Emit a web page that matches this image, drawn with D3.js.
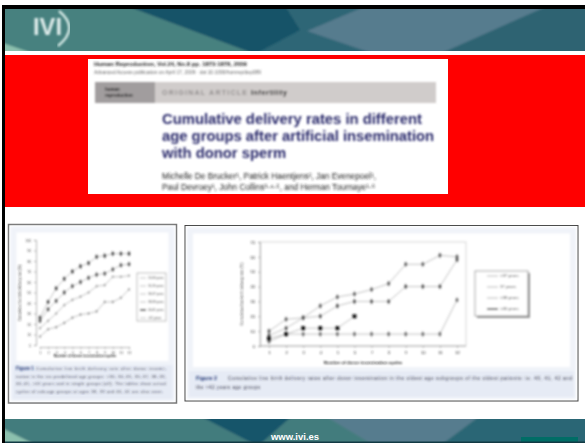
<!DOCTYPE html>
<html>
<head>
<meta charset="utf-8">
<script src="https://cdn.jsdelivr.net/npm/d3@7"></script>
<style>
  html, body { margin: 0; padding: 0; background: #fff; }
  svg { display: block; }
  text { font-family: "Liberation Sans", sans-serif; }
</style>
</head>
<body>
<div id="chart"></div>
<script>
const attempts = [1, 2, 3, 4, 5, 6, 7, 8, 9, 10, 11, 12];

// figure 1, cumulative delivery rate by age group
const fig1Ticks = [0, 10, 20, 30, 40, 50, 60, 70, 80, 90, 100];
const fig1Labels = ['20-30 years', '31-35 years', '36-37 years', '38-39 years', '40-41 years', '>41 years'];
const fig1A = [26, 41, 54, 63, 70, 75, 78, 84, 85, 87, 87, 87];
const fig1B = [23, 34, 42, 50, 56, 60, 64, 67, 68, 72, 76, 77];
const fig1C = [16, 23, 30, 38, 43, 46, 50, 56, 57, 65, 65, 66];
const fig1D = [8, 15, 17, 21, 26, 29, 30, 32, 41, 41, 45, 53];

// figure 2, oldest patients
const fig2Ticks = [0, 10, 20, 30, 40, 50, 60, 70];
const fig2Labels = ['<37 years', '37 years', '<38 years', '>40 years'];
const fig2A = [10, 18, 19, 27, 33, 35, 38, 42, 55, 55, 61, 60];
const fig2B = [7, 12, 19, 20, 27, 30, 30, 30, 40, 40, 40, 58];
const fig2C = [3, 8, 8, 8, 8, 8, 8, 8, 8, 8, 8, 31];
const fig2D = [5, 8, 12, 12, 12, 20];

const width = 585;
const height = 443;

const svg = d3.select('#chart').append('svg')
  .attr('width', width)
  .attr('height', height);

const defs = svg.append('defs');
// below about 0.8 the browser's blur barely does anything
defs.append('filter').attr('id', 'blur')
  .attr('x', '-5%').attr('y', '-5%').attr('width', '110%').attr('height', '110%')
  .append('feGaussianBlur').attr('stdDeviation', 0.8);

function rect(parent, x, y, w, h, fill) {
  return parent.append('rect')
    .attr('x', x).attr('y', y).attr('width', w).attr('height', h)
    .attr('fill', fill);
}

function label(parent, x, y, str, size, fill, weight) {
  return parent.append('text')
    .attr('x', x).attr('y', y)
    .attr('font-size', size)
    .attr('fill', fill)
    .attr('font-weight', weight || 'normal')
    .text(str);
}

function band(parent, y0, y1, base, polys) {
  const clipId = `band${y0}`;
  defs.append('clipPath').attr('id', clipId)
    .append('rect').attr('x', 5).attr('y', y0).attr('width', width - 5).attr('height', y1 - y0);
  const outer = parent.append('g').attr('clip-path', `url(#${clipId})`);
  const g = outer.append('g').attr('filter', 'url(#blur)');
  rect(g, 0, y0 - 3, width, y1 - y0 + 6, base);
  polys.forEach((p) => {
    g.append('polygon').attr('points', p.points).attr('fill', p.fill);
  });
  return outer;
}

// header band
const header = band(svg, 9, 51, '#47817f', [
  { points: '250,6 600,6 600,54 250,54', fill: '#2e6676' },
  { points: '127,6 285,6 300,30 255,54', fill: '#185268' },
  { points: '307,31 366,6 548,6 440,54 374,54', fill: '#567b8e' },
  { points: '440,54 548,6 600,6 600,54', fill: '#2e6472' },
  { points: '0,42 35,54 0,54', fill: '#8cc0ae' },
]);
label(header, 33, 35, 'IVI', 23, '#dfeceb', 'bold')
  .attr('filter', 'url(#blur)')
  .attr('textLength', 29)
  .attr('lengthAdjust', 'spacingAndGlyphs');
header.append('path')
  .attr('d', 'M59,11 Q80,28 58,46')
  .attr('fill', 'none').attr('stroke', '#d5e9e6').attr('stroke-width', 2.4)
  .attr('filter', 'url(#blur)');

// red block with the paper title
rect(svg, 5, 55, 580, 152, '#ff0000');
rect(svg, 88, 59, 360, 135, '#fff');
const paper = svg.append('g').attr('filter', 'url(#blur)');
label(paper, 94, 66, 'Human Reproduction, Vol.24, No.8 pp. 1873-1878, 2009', 5.9, '#222', 'bold');
label(paper, 94, 74, 'Advanced Access publication on April 17, 2009 · doi:10.1093/humrep/dep089', 4.9, '#666');
rect(paper, 95, 82, 341, 21, '#d0cccb');
rect(paper, 95, 82, 60, 21, '#a19d9e');
label(paper, 105, 91, 'human', 4.5, '#222', 'bold');
label(paper, 105, 97, 'reproduction', 4.5, '#222', 'bold');
label(paper, 162, 95, 'ORIGINAL ARTICLE', 7, '#918d8d', 'bold').attr('textLength', 85);
label(paper, 251, 95, 'Infertility', 7, '#111', 'bold').attr('textLength', 36);
['Cumulative delivery rates in different', 'age groups after artificial insemination', 'with donor sperm']
  .forEach((t, i) => {
    label(paper, 162, 124 + i * 17, t, 14.8, '#2c2c6c', 'bold');
  });
label(paper, 162, 179, 'Michelle De Brucker¹, Patrick Haentjens², Jan Evenepoel¹,', 8.3, '#222');
label(paper, 162, 190, 'Paul Devroey¹, John Collins³·⁴·⁵, and Herman Tournaye¹·⁶', 8.3, '#222');

// slide frame, top and left edge
rect(svg, 2, 5, width - 2, 4, '#000');
rect(svg, 2, 5, 3, height - 5, '#000');

function panel(x, y, w, h, capH, stroke, strokeWidth) {
  rect(svg, x, y, w, h, '#fff').attr('stroke', stroke).attr('stroke-width', strokeWidth);
  rect(svg, x + 2, y + 2, w - 4, h - 4, '#f0f3f9').attr('filter', 'url(#blur)');
  rect(svg, x + 8, y + 8, w - 16, h - capH - 12, '#fff').attr('filter', 'url(#blur)');
  rect(svg, x + 4, y + h - capH, w - 8, capH - 4, '#e6ebf5').attr('filter', 'url(#blur)');
}

function drawLines(g, x, y, series, color) {
  const line = d3.line()
    .x((d, i) => x(attempts[i]))
    .y(d => y(d));
  series.forEach((values) => {
    g.append('path')
      .attr('d', line(values))
      .attr('fill', 'none')
      .attr('stroke', color)
      .attr('stroke-width', 0.6);
  });
}

function drawPoints(g, x, y, values, size, fill) {
  const symbol = d3.symbol().type(d3.symbolDiamond).size(size);
  g.selectAll(null)
    .data(values)
    .enter()
    .append('path')
    .attr('d', symbol)
    .attr('fill', fill)
    .attr('transform', (d, i) => `translate(${x(attempts[i])},${y(d)})`);
}

// figure 1
panel(8.5, 224.5, 168, 178.5, 38, '#777', 1.5);
const g1 = svg.append('g').attr('filter', 'url(#blur)');
const x1 = d3.scalePoint().domain(attempts).range([40, 129]);
const y1 = d3.scaleLinear().domain([0, 100]).range([345, 240]);

g1.append('g')
  .attr('transform', 'translate(36,0)')
  .call(d3.axisLeft(y1).tickValues(fig1Ticks).tickSize(2))
  .call(a => a.selectAll('text').attr('font-size', 3.2).attr('fill', '#333'))
  .call(a => a.selectAll('line,path').attr('stroke', '#888').attr('stroke-width', 0.6));
g1.append('g')
  .attr('transform', 'translate(0,347)')
  .call(d3.axisBottom(x1).tickSize(2))
  .call(a => a.selectAll('text').attr('font-size', 3.2).attr('fill', '#333'))
  .call(a => a.selectAll('line,path').attr('stroke', '#888').attr('stroke-width', 0.6));

drawLines(g1, x1, y1, [fig1A, fig1B, fig1C, fig1D], '#999');
drawPoints(g1, x1, y1, fig1A, 8, '#333');
drawPoints(g1, x1, y1, fig1B, 8, '#444');
drawPoints(g1, x1, y1, fig1C, 3, '#888');
drawPoints(g1, x1, y1, fig1D, 3, '#777');

g1.append('text')
  .attr('transform', 'translate(21,293) rotate(-90)')
  .attr('text-anchor', 'middle')
  .attr('font-size', 3.4)
  .attr('fill', '#222')
  .text('Cumulative live birth delivery rate (%)');
label(g1, 85, 357, 'Number of donor insemination cycles', 3.5, '#111', 'bold').attr('text-anchor', 'middle');

rect(g1, 137, 273, 29, 48, '#fff').attr('stroke', '#888').attr('stroke-width', 0.6);
fig1Labels.forEach((t, i) => {
  const ly = 278 + i * 8;
  g1.append('line')
    .attr('x1', 140).attr('x2', 146).attr('y1', ly).attr('y2', ly)
    .attr('stroke', i === 4 ? '#111' : '#999').attr('stroke-width', i === 4 ? 1.4 : 0.6);
  label(g1, 148, ly + 1.2, t, 3, '#444');
});

const cap1 = svg.append('g').attr('filter', 'url(#blur)');
label(cap1, 16, 370, 'Figure 1', 4.6, '#1c3070', 'bold');
label(cap1, 36, 370, 'Cumulative live birth delivery rate after donor insemi-', 4, '#334').attr('textLength', 130);
label(cap1, 16, 377.5, 'nation in the six predefined age groups: <30, 30–35, 35–37, 38–39,', 4, '#334').attr('textLength', 150);
label(cap1, 16, 385, '40–41, >41 years and in single groups (all). The tables show actual', 4, '#334').attr('textLength', 150);
label(cap1, 16, 392.5, 'cycles of sub-age groups at ages 38, 39 and 40, 41 are also seen.', 4, '#334').attr('textLength', 147);

// figure 2
panel(185, 225.5, 393, 175.5, 30, '#444', 1);
const g2 = svg.append('g').attr('filter', 'url(#blur)');
const x2 = d3.scalePoint().domain(attempts).range([269, 457]);
const y2 = d3.scaleLinear().domain([0, 70]).range([346, 242]);

rect(g2, 260, 242, 206, 104, 'none').attr('stroke', '#bbb').attr('stroke-width', 0.6);
g2.append('g')
  .attr('transform', 'translate(260,0)')
  .call(d3.axisLeft(y2).tickValues(fig2Ticks).tickSize(2))
  .call(a => a.selectAll('text').attr('font-size', 4).attr('fill', '#222'))
  .call(a => a.selectAll('line,path').attr('stroke', '#888').attr('stroke-width', 0.6));
g2.append('g')
  .attr('transform', 'translate(0,346)')
  .call(d3.axisBottom(x2).tickSize(2).tickPadding(3))
  .call(a => a.select('.domain').attr('d', 'M260,0H466'))
  .call(a => a.selectAll('text').attr('font-size', 4).attr('fill', '#222'))
  .call(a => a.selectAll('line,path').attr('stroke', '#888').attr('stroke-width', 0.6));

drawLines(g2, x2, y2, [fig2A, fig2B, fig2C, fig2D], '#999');
drawPoints(g2, x2, y2, fig2A, 9, '#555');
drawPoints(g2, x2, y2, fig2B, 9, '#444');
drawPoints(g2, x2, y2, fig2C, 9, '#666');
g2.selectAll(null)
  .data(fig2D)
  .enter()
  .append('rect')
  .attr('x', (d, i) => x2(attempts[i]) - 2)
  .attr('y', d => y2(d) - 2)
  .attr('width', 4)
  .attr('height', 4)
  .attr('fill', '#111');

g2.append('text')
  .attr('transform', 'translate(243,294) rotate(-90)')
  .attr('text-anchor', 'middle')
  .attr('font-size', 3.8)
  .attr('fill', '#222')
  .text('Cumulative live birth delivery rate (%)');
label(g2, 363, 364, 'Number of donor insemination cycles', 4.4, '#111', 'bold').attr('text-anchor', 'middle');

rect(g2, 477, 273, 53, 45, '#999');
rect(g2, 475, 271, 53, 45, '#fff').attr('stroke', '#777').attr('stroke-width', 0.7);
fig2Labels.forEach((t, i) => {
  const ly = 276 + i * 11;
  g2.append('line')
    .attr('x1', 487).attr('x2', 498).attr('y1', ly).attr('y2', ly)
    .attr('stroke', i === 3 ? '#111' : '#888').attr('stroke-width', i === 3 ? 1.2 : 0.6);
  label(g2, 500, ly + 1.4, t, 4.2, '#444');
});

const cap2 = svg.append('g').attr('filter', 'url(#blur)');
label(cap2, 196, 380, 'Figure 2', 5.4, '#1c3070', 'bold');
label(cap2, 228, 380, 'Cumulative live birth delivery rates after donor insemination in the oldest age subgroups of the oldest patients: ie. 40, 41, 42 and', 4.6, '#334').attr('textLength', 344);
label(cap2, 196, 389, 'the >42 years age groups', 4.6, '#334').attr('textLength', 64);

// footer band
const footer = band(svg, 419, 442, '#437b7d', [
  { points: '200,416 292,416 258,446', fill: '#16546b' },
  { points: '325,416 480,416 440,446 375,446', fill: '#567b8e' },
  { points: '480,416 600,416 600,446 440,446', fill: '#2c6674' },
  { points: '0,427 38,446 0,446', fill: '#8cc0ae' },
]);
rect(footer, 521, 437, 57, 5, '#006d66');
rect(svg, 5, 441.5, width - 5, 1.5, '#123a44');
label(svg, 295, 440, 'www.ivi.es', 9.5, '#fff', 'bold').attr('text-anchor', 'middle');
</script>
</body>
</html>
